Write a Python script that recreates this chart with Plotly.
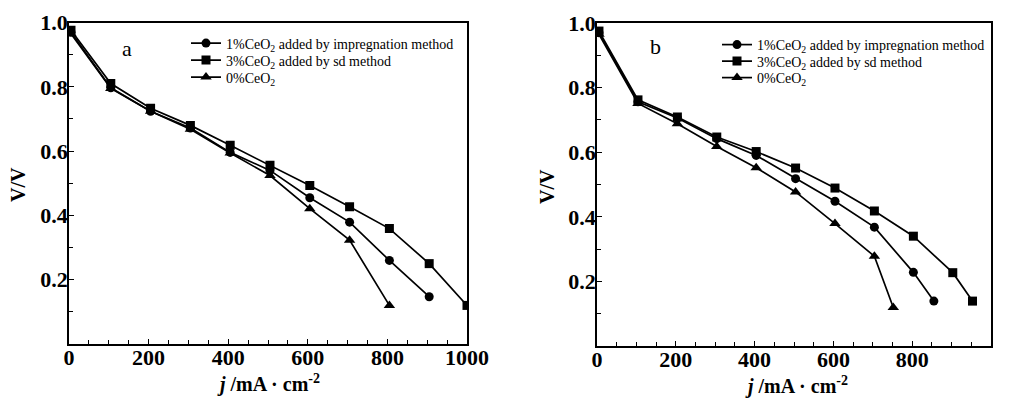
import plotly.graph_objects as go

# page has an 8px body margin; figure is sized to fill the rest of the window
OFF = 8
W, H = 1010 - OFF, 398 - OFF

# ---------------- data ----------------
labels = ["1%CeO<sub>2</sub> added by impregnation method",
          "3%CeO<sub>2</sub> added by sd method",
          "0%CeO<sub>2</sub>"]

# panel a
a_x_circle = [5, 105, 205, 305, 405, 505, 605, 705, 805, 905]
a_y_circle = [0.970, 0.797, 0.724, 0.672, 0.596, 0.540, 0.455, 0.379, 0.260, 0.147]
a_x_square = [5, 105, 205, 305, 405, 505, 605, 705, 805, 905, 1000]
a_y_square = [0.976, 0.810, 0.733, 0.680, 0.618, 0.556, 0.493, 0.427, 0.359, 0.250, 0.120]
a_x_tri = [5, 105, 205, 305, 405, 505, 605, 705, 805]
a_y_tri = [0.965, 0.795, 0.724, 0.668, 0.594, 0.524, 0.421, 0.323, 0.120]

# panel b
b_x_circle = [5, 104, 204, 304, 404, 504, 604, 704, 803, 855]
b_y_circle = [0.970, 0.756, 0.706, 0.642, 0.590, 0.518, 0.448, 0.368, 0.228, 0.139]
b_x_square = [5, 104, 204, 304, 404, 504, 604, 704, 803, 903, 953]
b_y_square = [0.975, 0.762, 0.709, 0.647, 0.602, 0.551, 0.489, 0.418, 0.340, 0.227, 0.139]
b_x_tri = [5, 104, 204, 304, 404, 504, 604, 704, 752]
b_y_tri = [0.965, 0.751, 0.688, 0.618, 0.552, 0.477, 0.379, 0.278, 0.119]

x_major = [0, 200, 400, 600, 800, 1000]
x_minor = [v for v in range(50, 1000, 50) if v % 200 != 0]
y_major = [0.2, 0.4, 0.6, 0.8, 1.0]
y_major_text = ["0.2", "0.4", "0.6", "0.8", "1.0"]
y_minor = [0.1, 0.3, 0.5, 0.7, 0.9]

# ---------------- style ----------------
SERIF = "Liberation Serif"
symbols = ["circle", "square", "triangle-up"]
msizes = [9, 9, 10]

def px_x(p):
    return (p - OFF) / W

def px_y(p):
    return (H - (p - OFF)) / H

fig = go.Figure()

def add_panel(xs_list, ys_list, xa, ya, legs):
    for i, (xs, ys) in enumerate(zip(xs_list, ys_list)):
        fig.add_trace(go.Scatter(
            x=xs, y=ys, mode="lines+markers", name=labels[i],
            xaxis=xa, yaxis=ya, legend=legs[i],
            line=dict(color="black", width=1.7),
            marker=dict(symbol=symbols[i], size=msizes[i], color="black"),
        ))

add_panel([a_x_circle, a_x_square, a_x_tri], [a_y_circle, a_y_square, a_y_tri],
          "x", "y", ["legend", "legend2", "legend3"])
add_panel([b_x_circle, b_x_square, b_x_tri], [b_y_circle, b_y_square, b_y_tri],
          "x2", "y2", ["legend4", "legend5", "legend6"])

tickfont = dict(family=SERIF, size=22, color="black", weight="bold")

def xaxis_cfg(domain, anchor):
    return dict(domain=domain, anchor=anchor, range=[0, 1000],
                showline=True, mirror=True, linecolor="black", linewidth=1.5,
                showgrid=False, zeroline=False,
                tickmode="array", tickvals=x_major, ticktext=[str(v) for v in x_major],
                ticks="inside", ticklen=5, tickwidth=1.3, tickcolor="black",
                minor=dict(tickmode="array", tickvals=x_minor, ticks="inside",
                           ticklen=4, tickwidth=1.2, tickcolor="black"),
                tickfont=tickfont, ticklabelstandoff=-7, automargin=False)

def yaxis_cfg(domain, anchor):
    return dict(domain=domain, anchor=anchor, range=[0, 1.0],
                showline=True, mirror=True, linecolor="black", linewidth=1.5,
                showgrid=False, zeroline=False,
                tickmode="array", tickvals=y_major, ticktext=y_major_text,
                ticks="inside", ticklen=5, tickwidth=1.3, tickcolor="black",
                minor=dict(tickmode="array", tickvals=y_minor, ticks="inside",
                           ticklen=4, tickwidth=1.2, tickcolor="black"),
                tickfont=tickfont, ticklabelstandoff=-5, automargin=False)

def leg(xp, yp):
    return dict(x=px_x(xp), y=px_y(yp), xanchor="left", yanchor="middle",
                bgcolor="rgba(0,0,0,0)",
                font=dict(family=SERIF, size=14, color="black"),
                itemwidth=30, borderwidth=0)

fig.update_layout(
    width=W, height=H, autosize=False,
    margin=dict(l=0, r=0, t=0, b=0),
    paper_bgcolor="white", plot_bgcolor="white",
    xaxis=xaxis_cfg([px_x(69), px_x(467)], "y"),
    yaxis=yaxis_cfg([px_y(344), px_y(22.5)], "x"),
    xaxis2=xaxis_cfg([px_x(597), px_x(991)], "y2"),
    yaxis2=yaxis_cfg([px_y(346), px_y(23)], "x2"),
    legend=leg(186, 43.5),
    legend2=leg(186, 60.5),
    legend3=leg(186, 77.5),
    legend4=leg(717, 45),
    legend5=leg(717, 61.5),
    legend6=leg(717, 78),
    showlegend=True,
)

ann_font = dict(family=SERIF, size=20, color="black", weight="bold")
annotations = [
    dict(text="a", x=px_x(127), y=px_y(49), font=dict(family=SERIF, size=22, color="black")),
    dict(text="b", x=px_x(655), y=px_y(47), font=dict(family=SERIF, size=22, color="black")),
    dict(text="<i>j</i> /mA · cm<sup>-2</sup>", x=px_x(268), y=px_y(383), font=ann_font),
    dict(text="<i>j</i> /mA · cm<sup>-2</sup>", x=px_x(796), y=px_y(385), font=ann_font),
    dict(text="V/V", x=px_x(18), y=px_y(185), textangle=-90, font=ann_font),
    dict(text="V/V", x=px_x(547), y=px_y(187), textangle=-90, font=ann_font),
]
for a in annotations:
    fig.add_annotation(xref="paper", yref="paper", showarrow=False,
                       xanchor="center", yanchor="middle", **a)

fig.write_html("out.html")
